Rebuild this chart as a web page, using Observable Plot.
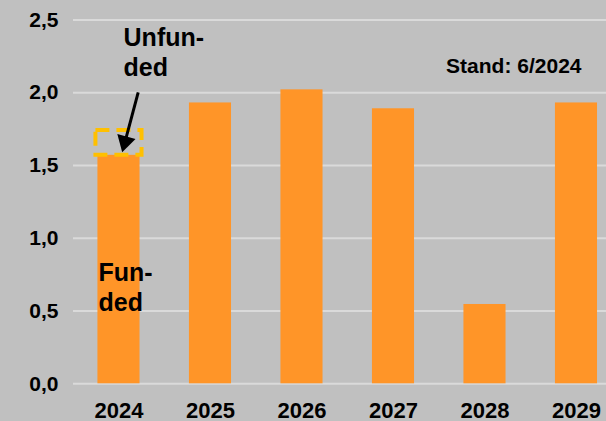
<!DOCTYPE html>
<html>
<head>
<meta charset="utf-8">
<script src="https://cdn.jsdelivr.net/npm/d3@7"></script>
<script src="https://cdn.jsdelivr.net/npm/@observablehq/plot@0.6"></script>
<style>
  html, body { margin: 0; padding: 0; background: #C0C0C0; }
  #chart svg { display: block; }
</style>
</head>
<body>
<div id="chart"></div>
<script>
// Data
const years = [2024, 2025, 2026, 2027, 2028, 2029];
const funded = [1.57, 1.93, 2.02, 1.89, 0.545, 1.93];
const unfundedYear = [2024];
const unfundedFrom = [1.57];
const unfundedTo = [1.74];
const yTicks = [0, 0.5, 1.0, 1.5, 2.0, 2.5];

// Annotations (data coordinates)
const notes = [
  {x: 2024.05, y: 2.466, text: "Unfun-\nded"},
  {x: 2023.776, y: 0.852, text: "Fun-\nded"}
];
const standNote = [{x: 2029.055, y: 2.18, text: "Stand: 6/2024"}];
const arrowLine = [{x1: 2024.21, y1: 2.003, x2: 2024.066, y2: 1.663}];
const arrowHead = [{x: 2024.066, y: 1.663}];

const bars = years.map((y, i) => ({year: y, value: funded[i]}));
const unfunded = unfundedYear.map((y, i) => ({year: y, from: unfundedFrom[i], to: unfundedTo[i]}));

const FONT = "'Liberation Sans', Arial, Helvetica, sans-serif";

const chart = Plot.plot({
  width: 606,
  height: 421,
  marginLeft: 73,
  marginRight: 0,
  marginTop: 19.5,
  marginBottom: 37.7,
  style: {background: "#C0C0C0", fontFamily: FONT, color: "#000"},
  x: {type: "linear", domain: [2023.503, 2029.328]},
  y: {domain: [0, 2.5]},
  marks: [
    Plot.ruleY(yTicks, {stroke: "#DADADA", strokeWidth: 2}),
    Plot.rectY(bars, {x1: d => d.year - 0.23, x2: d => d.year + 0.23, y1: 0, y2: "value", fill: "#FF9528"}),
    Plot.rectY(unfunded, {x1: d => d.year - 0.252, x2: d => d.year + 0.252, y1: "from", y2: "to",
      fill: "none", stroke: "#FFC000", strokeWidth: 4, strokeDasharray: "14,7"}),
    Plot.link(arrowLine, {x1: "x1", y1: "y1", x2: "x2", y2: "y2", stroke: "#000", strokeWidth: 3}),
    Plot.dot(arrowHead, {x: "x", y: "y", symbol: "triangle", r: 7, rotate: 195, fill: "#000", stroke: "none"}),
    Plot.text(notes, {x: "x", y: "y", text: "text", textAnchor: "start", lineAnchor: "top", lineHeight: 1.2,
      fontSize: 25, fontWeight: "bold", fill: "#000"}),
    Plot.text(standNote, {x: "x", y: "y", text: "text", textAnchor: "end", fontSize: 21, fontWeight: "bold", fill: "#000"}),
    Plot.axisY({ticks: yTicks, tickSize: 0, tickPadding: 15, fontSize: 21, fontWeight: "bold",
      tickFormat: d => d.toFixed(1).replace(".", ","), label: null, fill: "#000"}),
    Plot.axisX({ticks: years, tickSize: 0, tickPadding: 19, fontSize: 22, fontWeight: "bold",
      tickFormat: d => String(d), label: null, fill: "#000"})
  ]
});
document.getElementById("chart").appendChild(chart);
</script>
</body>
</html>
